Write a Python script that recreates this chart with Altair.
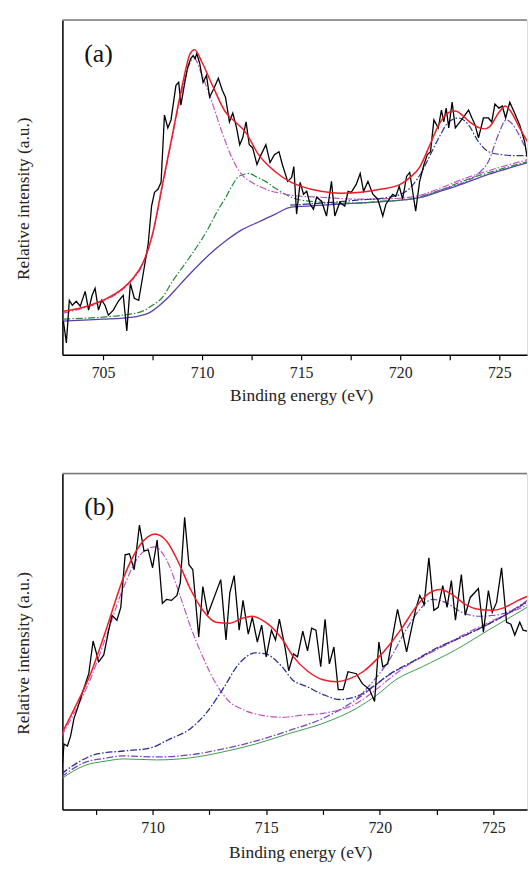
import altair as alt
import pandas as pd

# ---------------- Panel (a) ----------------
a_raw_x = [703.00,703.15,703.30,703.45,703.65,703.85,704.10,704.27,704.45,704.60,704.77,704.93,705.10,705.27,705.52,
           705.77,706.02,706.20,706.38,706.58,706.80,707.03,707.28,707.45,707.60,707.77,707.93,708.10,708.27,708.43,
           708.68,708.82,708.93,709.10,709.27,709.43,709.55,709.65,709.73,709.88,710.05,710.22,710.38,710.60,710.82,
           711.02,711.18,711.38,711.55,711.73,711.90,712.05,712.22,712.38,712.55,712.77,712.93,713.22,713.43,713.65,
           713.88,714.05,714.32,714.52,714.63,714.77,714.95,715.12,715.28,715.45,715.62,715.78,716.03,716.28,716.53,
           716.70,716.95,717.20,717.37,717.53,717.78,717.98,718.15,718.37,718.62,718.87,719.12,719.28,719.45,719.62,
           719.78,719.95,720.12,720.32,720.48,720.65,720.78,720.98,721.20,721.37,721.53,721.70,721.92,722.08,722.20,
           722.32,722.45,722.62,722.78,722.98,723.20,723.45,723.62,723.78,723.95,724.20,724.45,724.62,724.78,724.98,
           725.15,725.32,725.53,725.75,726.03,726.28,726.40]
a_raw_y = [34,12,55,50,54,49,64,45,60,67,45,55,50,40,45,
           54,60,24,72,57,55,82,112,150,164,167,174,242,229,237,
           272,275,252,272,290,299,302,299,304,294,275,282,260,269,279,
           267,260,235,244,230,212,219,235,212,209,192,200,212,194,202,
           205,192,175,179,190,142,174,162,165,152,147,159,155,140,175,
           140,154,150,165,164,172,183,165,175,162,157,140,152,157,162,
           160,170,157,180,184,162,145,175,192,202,205,237,229,247,235,
           249,229,255,229,234,240,247,239,232,219,239,239,235,253,249,
           251,239,255,245,232,215,200]

a_env_x = [703.0,704.0,705.0,706.0,706.5,707.0,707.5,708.0,708.5,709.0,709.4,709.62,710.0,710.52,711.18,711.68,712.18,
           712.85,713.68,714.5,715.0,716.0,717.0,718.0,719.0,720.0,720.5,721.0,721.5,722.0,722.5,722.8,723.0,723.5,
           724.0,724.3,724.5,725.0,725.3,725.6,726.0,726.45]
a_env_y = [44,48,55,67,77,92,122,172,222,272,304,308,295,272,245,235,225,
           202,185,174,170,165,163,164,167,172,179,190,212,234,245,246,244,235,
           229,228,230,245,251,245,230,214]

a_mag_x = [703.0,704.0,705.0,706.0,706.5,707.0,707.5,708.0,708.5,709.0,709.4,709.6,710.0,710.5,711.0,711.5,712.0,
           712.5,713.0,713.5,714.0,714.5,715.0,716.0,718.0,720.0,721.0,722.0,723.0,724.0,725.0,726.45]
a_mag_y = [42,47,54,66,76,91,121,170,220,268,295,299,282,255,225,199,182,
           174,169,165,163,161,160,159,157,158,161,168,176,183,189,197]

a_grn_x = [703.0,705.0,706.0,707.0,707.5,708.0,708.5,709.0,709.5,710.0,710.35,710.8,711.2,711.5,711.85,712.35,712.8,
           713.2,713.7,714.2,714.8,716.0,717.0,718.0,719.0,720.0,721.0,722.0,723.0,724.0,725.0,726.45]
a_grn_y = [36,38,40,44,50,58,74,88,102,117,129,146,159,170,180,183,179,
           175,168,162,157,154,153,153,155,156,159,166,174,181,187,195]

a_bg_x = [702.95,704.0,705.0,706.0,706.8,707.3,707.8,708.3,708.8,709.5,710.3,711.2,712.0,712.85,713.7,714.5,715.3,
          716.1,717.8,719.45,720.5,721.1,722.0,722.8,724.45,726.45]
a_bg_y = [34,35,36,37,39,42,49,58,69,84,100,115,126,134,142,149,150,
          151,153,155,157,159,165,170,182,194]

a_blu_x = [714.45,716.0,717.8,719.45,720.3,720.7,721.1,721.5,721.95,722.45,722.95,723.45,723.95,724.45,725.1,725.8,726.45]
a_blu_y = [151,153,156,159,165,173,185,201,219,235,239,232,215,205,202,201,201]

a_pur_x = [721.1,722.0,722.8,723.45,724.0,724.45,724.95,725.35,725.8,726.1,726.45]
a_pur_y = [160,166,171,176,184,195,222,237,229,218,203]

# ---------------- Panel (b) ----------------
b_raw_x = [705.99,706.10,706.25,706.39,706.54,706.68,706.90,707.19,707.38,707.63,707.85,708.07,708.21,708.43,708.60,
           708.79,708.98,709.19,709.42,709.62,709.81,710.00,710.20,710.43,710.61,710.83,711.07,711.22,711.41,711.60,
           711.77,712.03,712.21,712.43,713.00,713.23,713.40,713.59,713.81,713.98,714.21,714.39,714.61,714.80,715.00,
           715.23,715.41,715.58,715.84,715.99,716.20,716.38,716.61,716.82,717.00,717.19,717.40,717.59,717.78,717.98,
           718.17,718.39,718.60,718.97,719.23,719.55,719.77,719.96,720.13,720.35,720.78,721.00,721.18,721.41,721.58,
           721.76,721.95,722.16,722.38,722.57,722.77,722.96,723.15,723.33,723.59,723.76,723.98,724.34,724.56,724.78,
           724.95,725.14,725.36,725.58,725.77,725.94,726.16,726.31,726.48]
b_raw_y = [34,66,64,74,92,101,117,137,170,149,156,181,196,191,204,
           257,258,242,287,261,262,244,272,208,212,211,216,229,295,247,
           242,174,225,197,232,171,219,236,181,211,177,194,169,186,154,
           181,171,192,162,140,157,154,180,160,183,181,144,192,147,164,
           121,121,139,137,127,121,109,169,144,147,202,179,159,184,202,
           216,207,254,201,204,226,204,231,191,237,196,214,223,179,221,
           199,209,244,189,187,176,189,181,180]

b_env_x = [705.99,706.54,707.27,707.99,708.72,709.45,710.1,710.61,711.19,711.63,712.21,712.79,713.37,713.95,714.39,
           714.97,715.7,716.2,716.8,717.5,718.1,718.68,719.26,719.84,720.42,721.0,721.58,722.16,722.67,723.18,723.76,
           724.34,724.93,725.51,726.09,726.48]
b_env_y = [76,101,137,184,234,267,278,271,247,224,201,189,188,193,195,
           189,172,154,140,131,129,132,139,151,166,184,204,218,222,217,207,
           202,201,204,211,215]

b_mag_x = [705.99,706.54,707.27,707.99,708.72,709.45,710.1,710.61,711.19,711.63,712.21,712.79,713.37,713.95,714.82,
           715.7,716.5,717.5,718.97,719.84,720.42,721.0,722.0,723.0,724.0,725.0,726.48]
b_mag_y = [74,97,132,177,224,257,265,252,217,187,154,127,109,101,95,
           93,95,97,107,121,132,142,156,168,180,191,206]

b_blu_x = [705.99,706.68,707.56,708.72,709.88,710.75,711.63,712.35,713.08,713.8,714.53,714.97,715.7,716.15,716.79,
           717.51,718.24,718.97,719.7,720.4,721.5,722.5,723.5,724.5,725.5,726.48]
b_blu_y = [36,47,56,59,62,71,81,97,121,147,158,157,144,131,124,
           116,111,114,124,136,150,163,173,184,196,210]

b_pur_x = [719.0,719.5,720.42,721.15,721.73,722.31,722.89,723.62,724.34,725.07,725.8,726.48]
b_pur_y = [112,124,151,181,201,212,209,199,195,196,201,211]

b_bgp_x = [705.99,706.97,707.99,708.72,710.17,711.63,713.08,714.53,716.06,717.51,718.97,720.42,721.87,723.33,724.78,726.48]
b_bgp_y = [33,47,52,54,53,55,61,69,80,92,111,136,154,171,187,209]

b_bgg_x = [705.99,706.97,707.99,708.72,710.17,711.63,713.08,714.53,716.06,717.51,718.97,719.84,720.71,721.87,723.33,724.78,726.48]
b_bgg_y = [31,44,49,51,50,52,58,66,77,87,102,115,131,144,161,181,204]

panel_labels = ["(a)", "(b)"]
a_ticks = [705, 707.5, 710, 712.5, 715, 717.5, 720, 722.5, 725]
b_ticks = [707.5, 710, 712.5, 715, 717.5, 720, 722.5, 725]

RED = "#ee1c25"
MAG = "#c052c4"
GRN = "#1f8a3c"
NAVY = "#2b2f8f"
PUR = "#7346c2"
BGA = "#5a40aa"
BGG = "#3c9c50"
DASHDOT = [7, 2, 1.5, 2]
FONT = "Liberation Serif"
W = 469


def panel(xdom, ydom, height, ticks, title_x, title_y, title_pad, series, label):
    xs = alt.X("x:Q", scale=alt.Scale(domain=xdom, nice=False, zero=False),
               axis=alt.Axis(values=ticks, labelExpr="datum.value % 5 == 0 ? datum.label : ''",
                             title="Binding energy (eV)", grid=False, tickSize=5, tickColor="black",
                             domainColor="black", domainWidth=1.5, tickWidth=1.2,
                             labelFont=FONT, labelFontSize=16, labelColor="#222", labelPadding=5,
                             titleFont=FONT, titleFontSize=17.5, titleFontWeight="normal", titleColor="#222",
                             titlePadding=title_pad, titleX=title_x))
    ys = alt.Y("y:Q", scale=alt.Scale(domain=ydom, nice=False, zero=False),
               axis=alt.Axis(labels=False, ticks=False, grid=False, domainColor="black", domainWidth=1.5,
                             title="Relative intensity (a.u.)", titleFont=FONT, titleFontSize=17.5,
                             titleFontWeight="normal", titleColor="#222", titlePadding=30, titleY=title_y))
    layers = []
    for xv, yv, color, width, dash, interp in series:
        kw = dict(color=color, strokeWidth=width, clip=True, interpolate=interp)
        if dash:
            kw["strokeDash"] = dash
        layers.append(alt.Chart(pd.DataFrame({"x": xv, "y": yv})).mark_line(**kw).encode(x=xs, y=ys))
    top = alt.Chart(pd.DataFrame({"d": [0]})).mark_rule(color="#7a7a7a", strokeWidth=1.5).encode(
        x=alt.value(0), x2=alt.value(W), y=alt.value(0))
    txt = alt.Chart(pd.DataFrame({"t": [label]})).mark_text(
        font=FONT, fontSize=26, align="left", baseline="middle", color="#111").encode(
        x=alt.value(22), y=alt.value(34), text="t:N")
    return alt.layer(*layers, top, txt).properties(width=W, height=height)


chart_a = panel([702.95, 726.4], [0, 338], 338, a_ticks, 241, 180, 6, [
    (a_bg_x, a_bg_y, BGA, 1.3, None, "monotone"),
    (a_grn_x, a_grn_y, GRN, 1.2, DASHDOT, "monotone"),
    (a_mag_x, a_mag_y, MAG, 1.2, DASHDOT, "monotone"),
    (a_blu_x, a_blu_y, NAVY, 1.2, DASHDOT, "monotone"),
    (a_pur_x, a_pur_y, PUR, 1.2, DASHDOT, "monotone"),
    (a_raw_x, a_raw_y, "black", 1.3, None, "linear"),
    (a_env_x, a_env_y, RED, 1.5, None, "monotone"),
], panel_labels[0])

chart_b = panel([706.03, 726.48], [0, 339], 339, b_ticks, 240, 181, 9, [
    (b_bgg_x, b_bgg_y, BGG, 1.0, None, "monotone"),
    (b_bgp_x, b_bgp_y, PUR, 1.3, DASHDOT, "monotone"),
    (b_mag_x, b_mag_y, MAG, 1.2, DASHDOT, "monotone"),
    (b_blu_x, b_blu_y, NAVY, 1.3, DASHDOT, "monotone"),
    (b_pur_x, b_pur_y, PUR, 1.2, DASHDOT, "monotone"),
    (b_raw_x, b_raw_y, "black", 1.3, None, "linear"),
    (b_env_x, b_env_y, RED, 1.5, None, "monotone"),
], panel_labels[1])

chart = alt.vconcat(chart_a, chart_b, spacing=68).properties(
    padding={"left": 14, "top": 14, "right": 0, "bottom": 0}
).configure_view(stroke=None).configure(background="white")

chart.save("out.html", embed_options={"renderer": "svg", "actions": False})
